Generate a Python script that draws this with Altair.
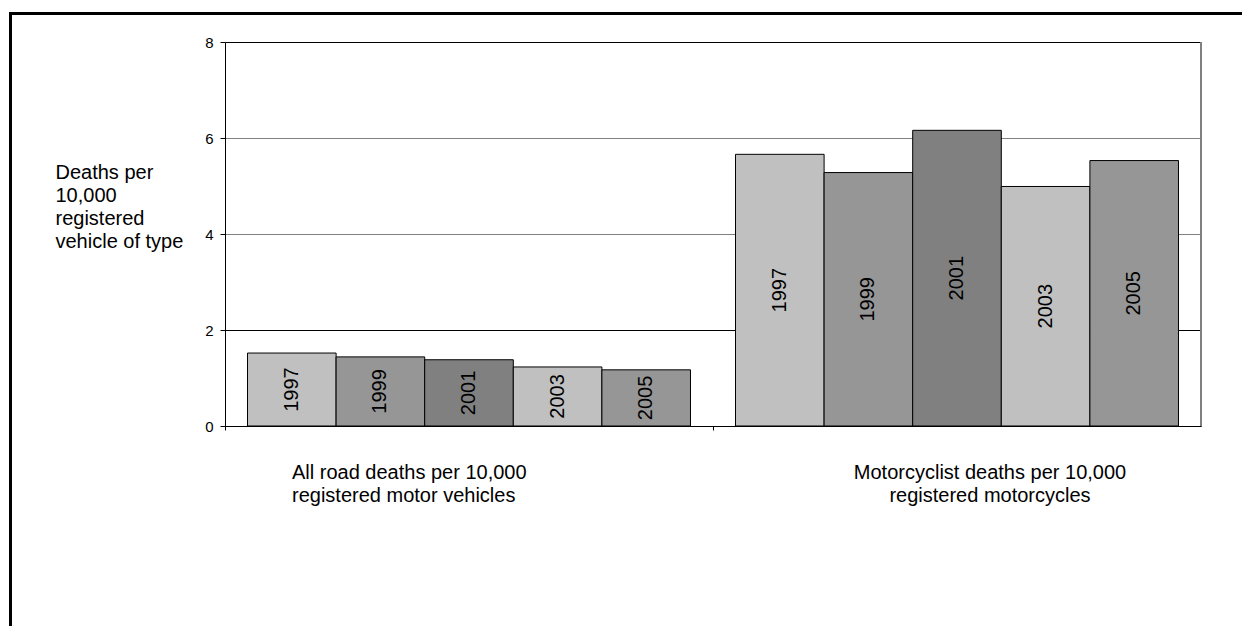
import altair as alt
import pandas as pd

groups = ["All road deaths per 10,000|registered motor vehicles",
          "Motorcyclist deaths per 10,000|registered motorcycles"]
years = ["1997", "1999", "2001", "2003", "2005"]
all_road = [1.52, 1.44, 1.38, 1.23, 1.17]
motorcyclist = [5.66, 5.28, 6.16, 4.99, 5.53]
bar_colors = ["#C0C0C0", "#969696", "#808080", "#C0C0C0", "#969696"]
y_ticks = [0, 2, 4, 6, 8]
y_title = ["Deaths per", "10,000", "registered", "vehicle of type"]

rows = []
for g, vals in zip(groups, [all_road, motorcyclist]):
    for yr, v in zip(years, vals):
        rows.append({"group": g, "year": yr, "value": v})
df = pd.DataFrame(rows)

FONT = "Liberation Sans"
W, H = 976, 384

x_axis = alt.Axis(
    title=None, labelAngle=0, bandPosition=0,
    labelExpr="split(datum.label, '|')",
    labelFont=FONT, labelFontSize=20, labelLineHeight=23, labelColor="black",
    labelAlign={"condition": {"test": "datum.index < 0.5", "value": "left"}, "value": "center"},
    labelOffset={"condition": {"test": "datum.index < 0.5", "value": -177}, "value": 33},
    labelBaseline="top", labelPadding=32, labelOverlap=False, labelLimit=0,
    tickSize=4, tickColor="black", domainColor="black", domainWidth=1, grid=False,
)
x_enc = alt.X("group:N", sort=groups,
              scale=alt.Scale(paddingInner=0, paddingOuter=0), axis=x_axis)
xoff_enc = alt.XOffset("year:N", sort=years,
                       scale=alt.Scale(paddingInner=0, paddingOuter=0.254))

y_axis = alt.Axis(
    values=y_ticks, title=y_title, titleAngle=0, titleAlign="left",
    titleBaseline="top", titleX=-170, titleY=120, titleFont=FONT,
    titleFontSize=20, titleFontWeight="normal", titleLineHeight=23,
    titleColor="black",
    labelFont=FONT, labelFontSize=15, labelColor="black", labelPadding=7,
    tickSize=5, tickColor="black", domainColor="black",
    grid=True,
    gridColor={"condition": {"test": "datum.value == 4 || datum.value == 6",
                             "value": "#808080"}, "value": "black"},
    gridWidth=1,
)
y_scale = alt.Scale(domain=[0, 8], nice=False)

color_enc = alt.Color("year:N", scale=alt.Scale(domain=years, range=bar_colors), legend=None)

bars = alt.Chart(df).mark_bar(stroke="black", strokeWidth=1).encode(
    x=x_enc, xOffset=xoff_enc,
    y=alt.Y("value:Q", scale=y_scale, axis=y_axis),
    color=color_enc,
)

labels = alt.Chart(df).transform_calculate(mid="datum.value / 2").mark_text(
    angle=270, font=FONT, fontSize=20, color="black", align="center", baseline="middle"
).encode(
    x=x_enc, xOffset=xoff_enc,
    y=alt.Y("mid:Q", scale=y_scale, axis=y_axis),
    text="year:N",
)

one = alt.Data(values=[{"a": 1}])
right_border = alt.Chart(one).mark_rule(color="#808080", strokeWidth=2).encode(
    x=alt.value(W), y=alt.value(0), y2=alt.value(H)
)
frame_top = alt.Chart(one).mark_rule(color="black", strokeWidth=3).encode(
    x=alt.value(-216), x2=alt.value(1100), y=alt.value(-28.5)
)
frame_left = alt.Chart(one).mark_rule(color="black", strokeWidth=3).encode(
    x=alt.value(-214.5), y=alt.value(-30), y2=alt.value(700)
)

chart = alt.layer(bars, labels, right_border, frame_top, frame_left).properties(
    width=W, height=H,
    autosize=alt.AutoSizeParams(type="none"),
    padding={"left": 217, "top": 34, "right": 41, "bottom": 200},
    background="white",
).configure_view(stroke=None)

chart.save("out.html", embed_options={"renderer": "svg", "actions": False})
